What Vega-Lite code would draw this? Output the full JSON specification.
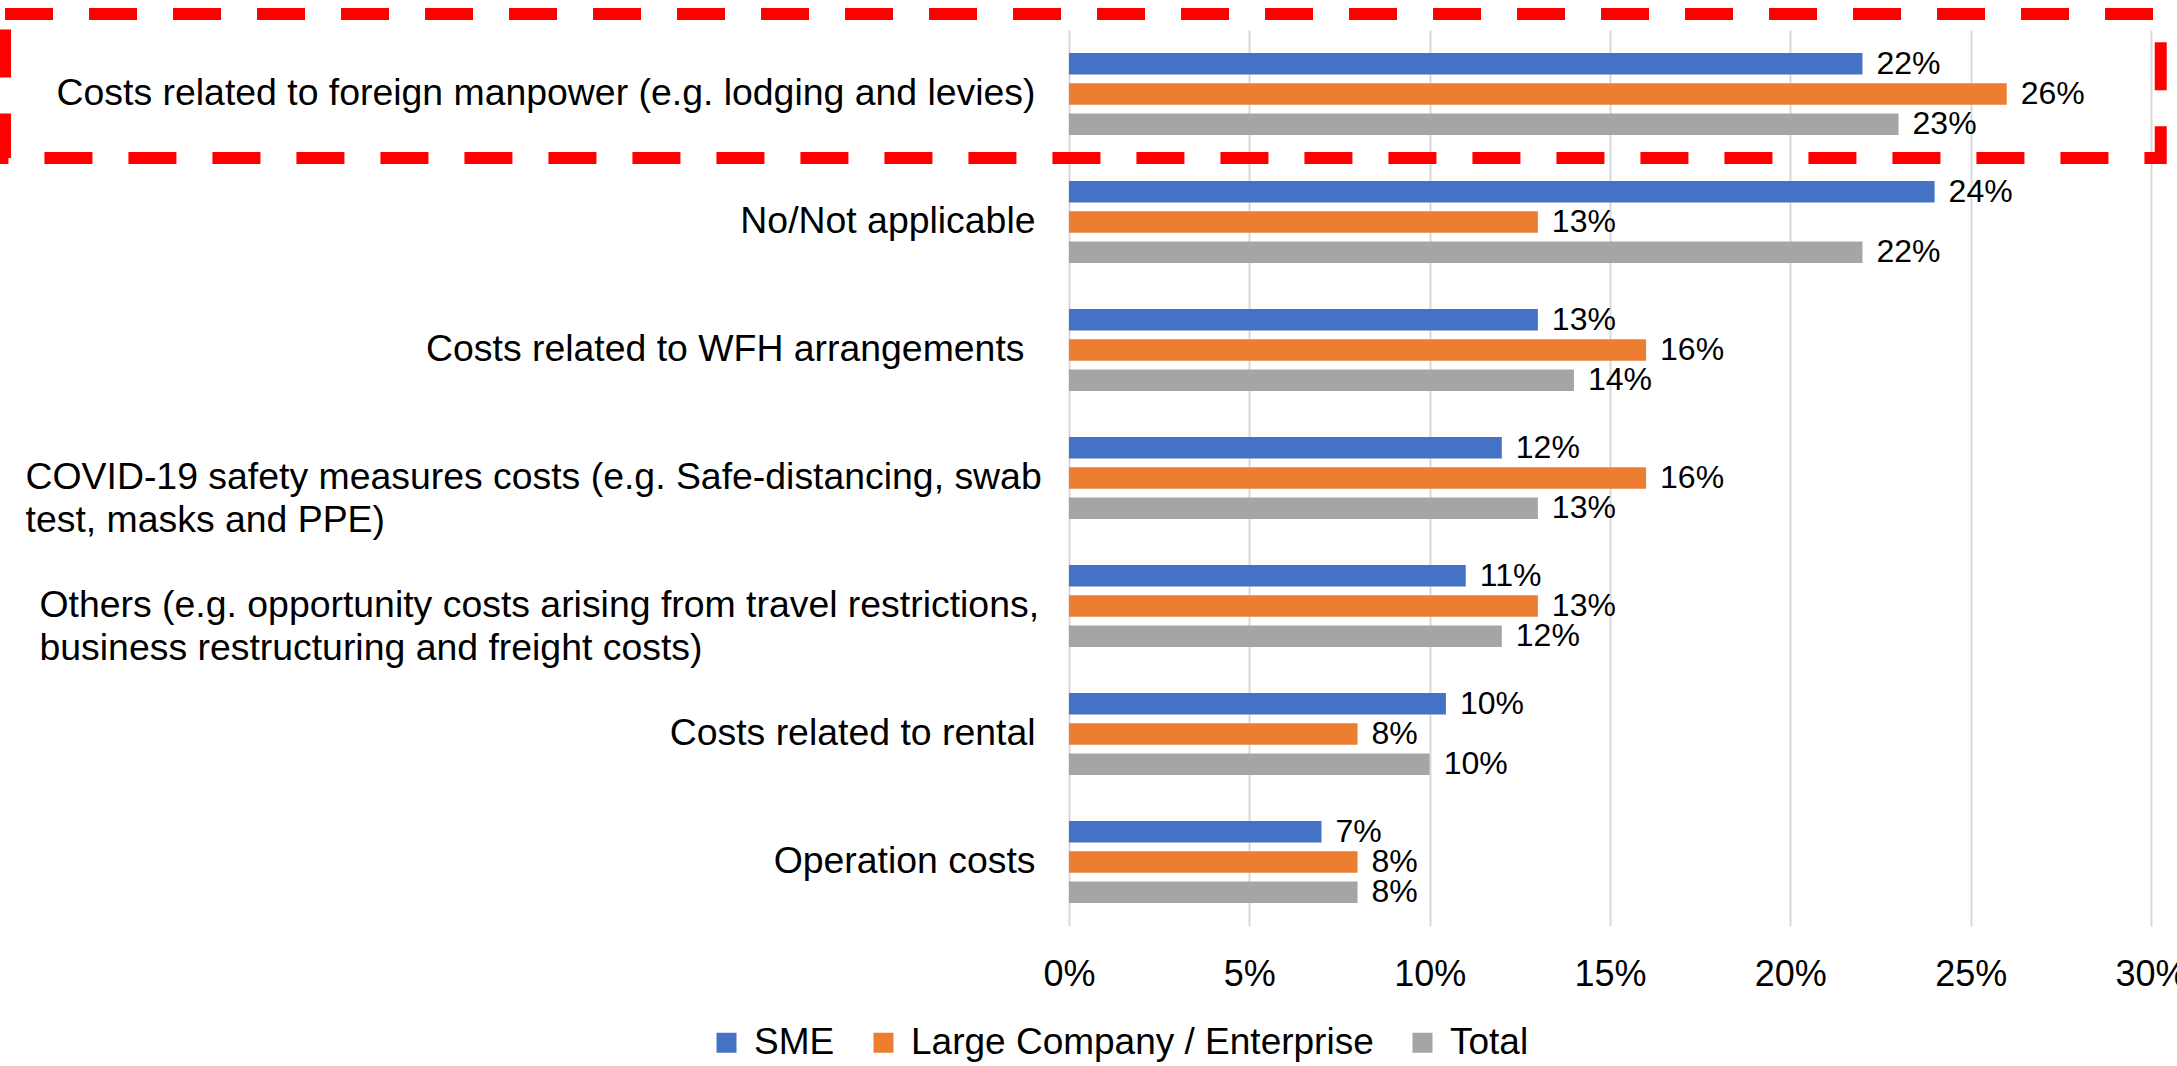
{
  "$schema": "https://vega.github.io/schema/vega-lite/v6.json",
  "width": 1082,
  "height": 896,
  "autosize": "none",
  "padding": {"left": 1069, "top": 30, "right": 26, "bottom": 140},
  "background": "white",
  "config": {
    "font": "Liberation Sans",
    "view": {"stroke": null}
  },
  "data": {
    "values": [
      {"category": "Costs related to foreign manpower (e.g. lodging and levies)", "group": "SME", "value": 0.22},
      {"category": "Costs related to foreign manpower (e.g. lodging and levies)", "group": "Large Company / Enterprise", "value": 0.26},
      {"category": "Costs related to foreign manpower (e.g. lodging and levies)", "group": "Total", "value": 0.23},
      {"category": "No/Not applicable", "group": "SME", "value": 0.24},
      {"category": "No/Not applicable", "group": "Large Company / Enterprise", "value": 0.13},
      {"category": "No/Not applicable", "group": "Total", "value": 0.22},
      {"category": "Costs related to WFH arrangements", "group": "SME", "value": 0.13},
      {"category": "Costs related to WFH arrangements", "group": "Large Company / Enterprise", "value": 0.16},
      {"category": "Costs related to WFH arrangements", "group": "Total", "value": 0.14},
      {"category": "COVID-19 safety measures costs (e.g. Safe-distancing, swab|test, masks and PPE)", "group": "SME", "value": 0.12},
      {"category": "COVID-19 safety measures costs (e.g. Safe-distancing, swab|test, masks and PPE)", "group": "Large Company / Enterprise", "value": 0.16},
      {"category": "COVID-19 safety measures costs (e.g. Safe-distancing, swab|test, masks and PPE)", "group": "Total", "value": 0.13},
      {"category": "Others (e.g. opportunity costs arising from travel restrictions,|business restructuring and freight costs)", "group": "SME", "value": 0.11},
      {"category": "Others (e.g. opportunity costs arising from travel restrictions,|business restructuring and freight costs)", "group": "Large Company / Enterprise", "value": 0.13},
      {"category": "Others (e.g. opportunity costs arising from travel restrictions,|business restructuring and freight costs)", "group": "Total", "value": 0.12},
      {"category": "Costs related to rental", "group": "SME", "value": 0.1045},
      {"category": "Costs related to rental", "group": "Large Company / Enterprise", "value": 0.08},
      {"category": "Costs related to rental", "group": "Total", "value": 0.10},
      {"category": "Operation costs", "group": "SME", "value": 0.07},
      {"category": "Operation costs", "group": "Large Company / Enterprise", "value": 0.08},
      {"category": "Operation costs", "group": "Total", "value": 0.08}
    ]
  },
  "encoding": {
    "y": {
      "field": "category",
      "type": "nominal",
      "sort": null,
      "scale": {"paddingInner": 0.36, "paddingOuter": 0.18},
      "axis": {
        "title": null,
        "domain": false,
        "ticks": false,
        "labelFontSize": 37.4,
        "labelColor": "#000000",
        "labelLimit": 1100,
        "labelExpr": "split(datum.label, '|')",
        "labelLineHeight": 43,
        "labelAlign": {"condition": {"test": "indexof(datum.value, '|') >= 0", "value": "left"}, "value": "right"},
        "labelPadding": {"condition": [
          {"test": "indexof(datum.value, 'COVID') >= 0", "value": 1044},
          {"test": "indexof(datum.value, 'Others') >= 0", "value": 1030},
          {"test": "indexof(datum.value, 'WFH') >= 0", "value": 45}
        ], "value": 34}
      }
    },
    "x": {
      "field": "value",
      "type": "quantitative",
      "scale": {"domain": [0, 0.3], "nice": false, "zero": true},
      "axis": {
        "title": null,
        "format": ".0%",
        "values": [0, 0.05, 0.1, 0.15, 0.2, 0.25, 0.3],
        "grid": true,
        "gridColor": "#D9D9D9",
        "gridWidth": 2,
        "domain": false,
        "ticks": false,
        "labelFontSize": 36,
        "labelColor": "#000000",
        "labelPadding": 31,
        "labelFlush": false
      }
    }
  },
  "layer": [
    {
      "mark": {"type": "bar"},
      "encoding": {
        "yOffset": {
          "field": "group",
          "type": "nominal",
          "sort": ["SME", "Large Company / Enterprise", "Total"],
          "scale": {"paddingInner": 0.29, "paddingOuter": 0}
        },
        "color": {
          "field": "group",
          "type": "nominal",
          "sort": ["SME", "Large Company / Enterprise", "Total"],
          "scale": {
            "domain": ["SME", "Large Company / Enterprise", "Total"],
            "range": ["#4472C4", "#ED7D31", "#A5A5A5"]
          },
          "legend": {
            "title": null,
            "orient": "none",
            "legendX": -361,
            "legendY": 994,
            "direction": "horizontal",
            "symbolType": "square",
            "symbolSize": 400,
            "symbolStrokeWidth": 0,
            "labelFontSize": 37,
            "labelColor": "#000000",
            "labelLimit": 1000,
            "labelOffset": 9,
            "columnPadding": 30,
            "padding": 0
          }
        }
      }
    },
    {
      "mark": {"type": "text", "align": "left", "baseline": "middle", "dx": 14, "fontSize": 32, "color": "#000000"},
      "encoding": {
        "yOffset": {
          "field": "group",
          "type": "nominal",
          "sort": ["SME", "Large Company / Enterprise", "Total"],
          "scale": {"paddingInner": 0.29, "paddingOuter": 0}
        },
        "text": {"field": "value", "type": "quantitative", "format": ".0%"}
      }
    },
    {
      "transform": [{"filter": "datum.group == 'SME' && indexof(datum.category, 'foreign manpower') >= 0"}],
      "mark": {"type": "rect", "fill": "transparent", "stroke": "#FF0000", "strokeWidth": 12, "strokeDash": [48, 36], "height": 144, "yOffset": -8},
      "encoding": {
        "y": {"field": "category", "type": "nominal", "sort": null},
        "x": {"datum": -0.295, "type": "quantitative"},
        "x2": {"datum": 0.3027}
      }
    }
  ]
}
